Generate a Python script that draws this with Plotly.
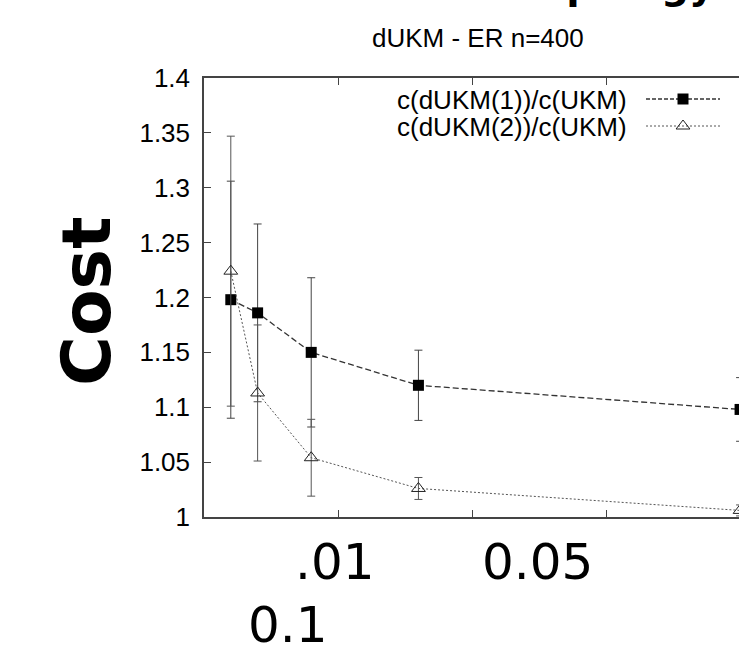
import plotly.graph_objects as go

# ---- data ----
x_vals = [0.001, 0.002, 0.004, 0.008, 0.02]
dukm1 = [1.198, 1.186, 1.150, 1.120, 1.098]
dukm1_err = [0.108, 0.081, 0.068, 0.032, 0.029]
dukm2 = [1.224, 1.113, 1.054, 1.026, 1.006]
dukm2_err = [0.123, 0.062, 0.035, 0.010, 0.005]
series_names = ["c(dUKM(1))/c(UKM)", "c(dUKM(2))/c(UKM)"]
y_tickvals = [1, 1.05, 1.1, 1.15, 1.2, 1.25, 1.3, 1.35, 1.4]
y_ticktext = ["1", "1.05", "1.1", "1.15", "1.2", "1.25", "1.3", "1.35", "1.4"]
x_tickvals = [0.005, 0.01, 0.015]
title_text = "dUKM - ER n=400"
ylabel_text = "Cost"
overlay_labels = [".01", "0.05", "0.1"]
top_text = "Topology"

# ---- layout geometry (pixels) ----
W, H = 739, 653
L, R, T, B = 204, 739, 78, 517


def px(x):
    return (x - L) / (R - L)


def py(y):
    return (B - y) / (B - T)


FONT = "Liberation Sans, Arial, sans-serif"

fig = go.Figure()

fig.add_trace(go.Scatter(
    x=x_vals, y=dukm1, mode="lines+markers", name=series_names[0],
    line=dict(color="#333333", width=1.3, dash="6px,3px"),
    marker=dict(symbol="square", size=11, color="black"),
    error_y=dict(type="data", array=dukm1_err, visible=True,
                 color="#444444", thickness=1, width=4),
    showlegend=False,
))
fig.add_trace(go.Scatter(
    x=x_vals, y=dukm2, mode="lines+markers", name=series_names[1],
    line=dict(color="#555555", width=1, dash="2px,2px"),
    marker=dict(symbol="triangle-up-open", size=12, color="#222222",
                line=dict(width=1, color="#222222")),
    error_y=dict(type="data", array=dukm2_err, visible=True,
                 color="#555555", thickness=1, width=4),
    showlegend=False,
))

# legend samples (gnuplot style: text then sample on the right)
leg_rows = [99, 126]
fig.add_trace(go.Scatter(
    x=[px(646), px(720)], y=[py(leg_rows[0])] * 2,
    xaxis="x2", yaxis="y2", mode="lines",
    line=dict(color="#333333", width=1.3, dash="4px,2px"),
    showlegend=False, hoverinfo="skip",
))
fig.add_trace(go.Scatter(
    x=[px(683)], y=[py(leg_rows[0])],
    xaxis="x2", yaxis="y2", mode="markers",
    marker=dict(symbol="square", size=11, color="black"),
    showlegend=False, hoverinfo="skip",
))
fig.add_trace(go.Scatter(
    x=[px(646), px(720)], y=[py(leg_rows[1])] * 2,
    xaxis="x2", yaxis="y2", mode="lines",
    line=dict(color="#555555", width=1, dash="2px,2px"),
    showlegend=False, hoverinfo="skip",
))
fig.add_trace(go.Scatter(
    x=[px(683)], y=[py(leg_rows[1])],
    xaxis="x2", yaxis="y2", mode="markers",
    marker=dict(symbol="triangle-up-open", size=12, color="#222222",
                line=dict(width=1, color="#222222")),
    showlegend=False, hoverinfo="skip",
))

annotations = []
for i, name in enumerate(series_names):
    annotations.append(dict(
        text=name, xref="paper", yref="paper", x=px(629), y=py(leg_rows[i] + 1),
        xanchor="right", yanchor="middle", showarrow=False,
        font=dict(family=FONT, size=26, color="black"),
    ))

annotations.append(dict(
    text=title_text, xref="paper", yref="paper", x=px(478), y=py(38),
    xanchor="center", yanchor="middle", showarrow=False,
    font=dict(family=FONT, size=26, color="black"),
))
annotations.append(dict(
    text=ylabel_text, xref="paper", yref="paper", x=px(86), y=py(301),
    xanchor="center", yanchor="middle", showarrow=False, textangle=-90,
    font=dict(family="DejaVu Sans", size=68, color="black", weight="bold"),
))
big_pos = [(335, 562), (537, 562), (288, 625)]
for lab, (bx, by) in zip(overlay_labels, big_pos):
    annotations.append(dict(
        text=lab, xref="paper", yref="paper", x=px(bx), y=py(by),
        xanchor="center", yanchor="middle", showarrow=False,
        font=dict(family="DejaVu Sans", size=50, color="black"),
    ))
annotations.append(dict(
    text=top_text, xref="paper", yref="paper", x=px(516), y=py(10),
    xanchor="left", yanchor="bottom", showarrow=False,
    font=dict(family="DejaVu Sans", size=39, color="black", weight="bold"),
))

fig.update_layout(
    width=W, height=H,
    margin=dict(l=L, r=W - R, t=T, b=H - B, pad=0),
    paper_bgcolor="white", plot_bgcolor="white",
    showlegend=False,
    xaxis=dict(
        range=[0, 0.01996], showgrid=False, zeroline=False,
        showline=True, linecolor="#444444", linewidth=1.5, mirror="ticks",
        ticks="inside", ticklen=7, tickcolor="#444444", tickwidth=1,
        tickvals=x_tickvals, showticklabels=False,
    ),
    yaxis=dict(
        range=[1, 1.4], showgrid=False, zeroline=False,
        showline=True, linecolor="#444444", linewidth=1.5, mirror=False,
        ticks="inside", ticklen=7, tickcolor="#444444", tickwidth=1,
        tickvals=y_tickvals, ticktext=y_ticktext, ticklabelstandoff=7,
        tickfont=dict(family=FONT, size=26, color="black"),
    ),
    xaxis2=dict(overlaying="x", anchor="y2", range=[0, 1], visible=False),
    yaxis2=dict(overlaying="y", anchor="x2", range=[0, 1], visible=False),
    annotations=annotations,
)

fig.write_html(
    "out.html",
    config={"displayModeBar": False},
    post_script="document.body.style.margin='0';document.body.style.overflow='hidden';",
)
